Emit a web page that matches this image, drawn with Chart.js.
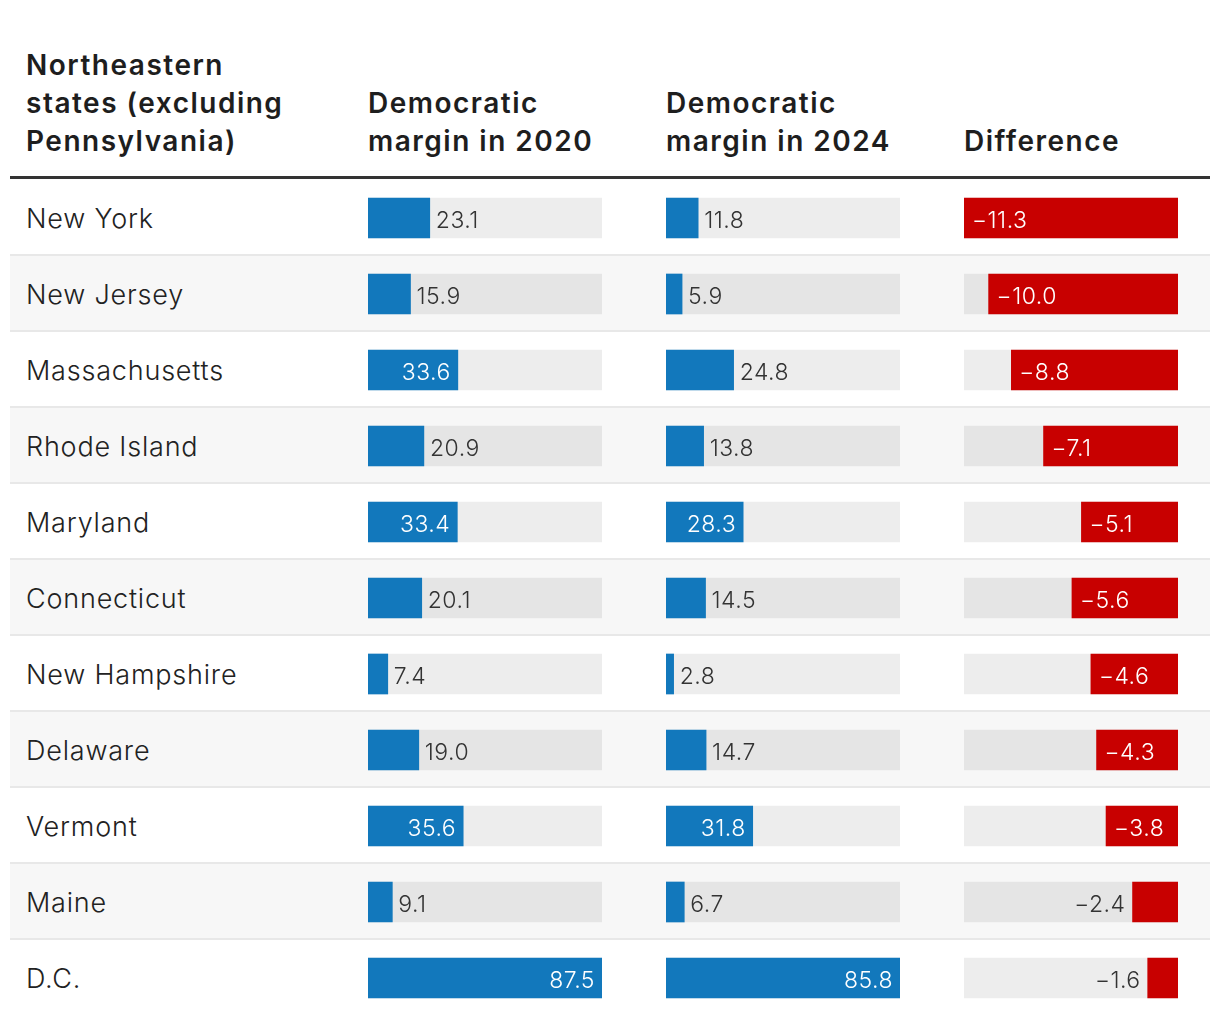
<!DOCTYPE html>
<html>
<head>
<meta charset="utf-8">
<script src="https://cdn.jsdelivr.net/npm/chart.js@4.4.1/dist/chart.umd.min.js"></script>
<style>
  body { margin: 0; background: #fff; font-family: Inter, "Noto Sans", sans-serif; color: #222; }
  #wrap { position: relative; width: 1220px; height: 1024px; overflow: hidden; }
  .head { position: absolute; bottom: calc(1024px - 160px); font-size: 28px; font-weight: 600; line-height: 38px; letter-spacing: 1.5px; color: #1e1e1e; }
  #rule { position: absolute; left: 10px; width: 1200px; top: 176px; height: 3px; background: #333; }
  .row { position: absolute; left: 10px; width: 1200px; height: 74px; }
  .row.sep { border-bottom: 2px solid #e8e8e8; }
  .row.alt { background: #f7f7f7; }
  .name { position: absolute; left: 16px; top: 1px; line-height: 76px; font-size: 27px; font-weight: 300; letter-spacing: 0.8px; color: #222; }
  canvas { position: absolute; top: 180px; }
</style>
</head>
<body>
<div id="wrap">
  <div class="head" style="left:26px">Northeastern<br>states (excluding<br>Pennsylvania)</div>
  <div class="head" style="left:368px">Democratic<br>margin in 2020</div>
  <div class="head" style="left:666px">Democratic<br>margin in 2024</div>
  <div class="head" style="left:964px">Difference</div>
  <div id="rule"></div>
  <div id="rows"></div>
  <canvas id="c2020" width="234" height="836" style="left:368px"></canvas>
  <canvas id="c2024" width="234" height="836" style="left:666px"></canvas>
  <canvas id="cdiff" width="214" height="836" style="left:964px"></canvas>
</div>
<script>
let states = ['New York', 'New Jersey', 'Massachusetts', 'Rhode Island', 'Maryland', 'Connecticut',
  'New Hampshire', 'Delaware', 'Vermont', 'Maine', 'D.C.'];
let margin2020 = [23.1, 15.9, 33.6, 20.9, 33.4, 20.1, 7.4, 19.0, 35.6, 9.1, 87.5];
let margin2024 = [11.8, 5.9, 24.8, 13.8, 28.3, 14.5, 2.8, 14.7, 31.8, 6.7, 85.8];
let difference = [-11.3, -10.0, -8.8, -7.1, -5.1, -5.6, -4.6, -4.3, -3.8, -2.4, -1.6];

const ROW = 76;
const TOP = 180;

// table rows (backgrounds + state names)
let rows = document.getElementById('rows');
states.forEach((s, i) => {
  let d = document.createElement('div');
  d.className = 'row' + (i % 2 ? ' alt' : '') + (i < states.length - 1 ? ' sep' : '');
  d.style.top = (TOP + i * ROW) + 'px';
  let n = document.createElement('div');
  n.className = 'name';
  n.textContent = s;
  d.appendChild(n);
  rows.appendChild(d);
});

function fmt(v) {
  let t = Math.abs(v).toFixed(1);
  return v < 0 ? '\u2212' + t : t;
}

// value labels: inside the bar (white) if wide enough, else outside (dark)
const valueLabels = {
  id: 'valueLabels',
  afterDatasetsDraw(chart, args, opts) {
    let ctx = chart.ctx;
    let meta = chart.getDatasetMeta(0);
    let vals = chart.data.datasets[0].data;
    ctx.save();
    ctx.font = '300 23px Inter, "Noto Sans", sans-serif';
    ctx.letterSpacing = '0.5px';
    ctx.textBaseline = 'alphabetic';
    meta.data.forEach((bar, i) => {
      let w = Math.abs(bar.x - bar.base);
      let txt = fmt(vals[i]);
      let inside = w > opts.minInside;
      let neg = vals[i] < 0;
      let y = bar.y + 10;
      if (!neg) {
        if (inside) { ctx.fillStyle = '#fff'; ctx.textAlign = 'right'; ctx.fillText(txt, bar.x - 7, y); }
        else { ctx.fillStyle = '#333'; ctx.textAlign = 'left'; ctx.fillText(txt, bar.x + 6, y); }
      } else {
        if (inside) { ctx.fillStyle = '#fff'; ctx.textAlign = 'left'; ctx.fillText(txt, bar.x + 8, y); }
        else { ctx.fillStyle = '#333'; ctx.textAlign = 'right'; ctx.fillText(txt, bar.x - 7, y); }
      }
    });
    ctx.restore();
  }
};

function makeColumn(id, values, color, min, max, minInside) {
  let full = values.map(() => (min < 0 ? min : max));
  return new Chart(document.getElementById(id), {
    type: 'bar',
    data: {
      labels: states,
      datasets: [
        { data: values, backgroundColor: color, barThickness: 40, grouped: false, order: 0, borderWidth: 0 },
        { data: full, backgroundColor: 'rgba(0,0,0,0.07)', barThickness: 40, grouped: false, order: 1, borderWidth: 0 }
      ]
    },
    options: {
      indexAxis: 'y',
      responsive: false,
      animation: false,
      layout: { padding: 0 },
      scales: {
        x: { display: false, min: min, max: max },
        y: { display: false }
      },
      plugins: {
        legend: { display: false },
        tooltip: { enabled: false },
        valueLabels: { minInside: minInside }
      }
    },
    plugins: [valueLabels]
  });
}

makeColumn('c2020', margin2020, '#1278bc', 0, 87.5, 72);
makeColumn('c2024', margin2024, '#1278bc', 0, 85.8, 72);
makeColumn('cdiff', difference, '#c80000', -11.3, 0, 55);
</script>
</body>
</html>
